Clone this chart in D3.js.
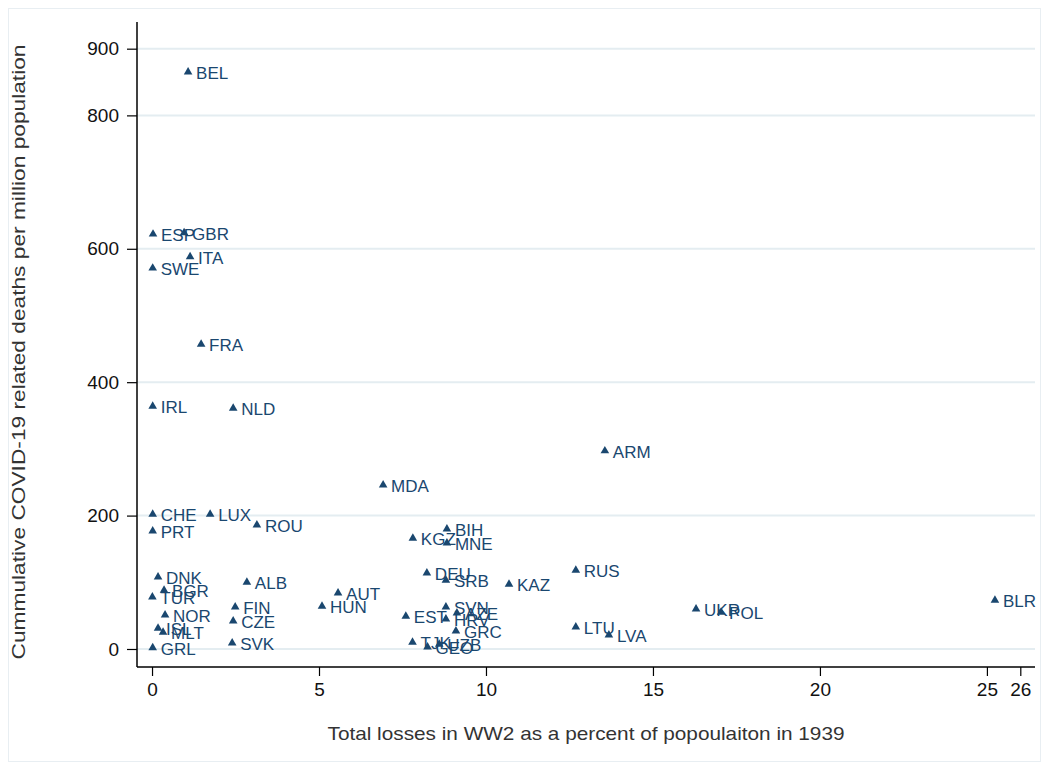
<!DOCTYPE html>
<html>
<head>
<meta charset="utf-8">
<script src="https://cdn.jsdelivr.net/npm/d3@7"></script>
<style>
  body { margin: 0; background: #fff; }
  text { font-family: Arial, "Liberation Sans", sans-serif; }
</style>
</head>
<body>
<div class="chart"></div>
<script>
// country codes, WW2 losses (% of 1939 pop.), covid deaths per million
const countries = ["BEL","ESP","GBR","ITA","SWE","FRA","IRL","NLD","ARM","MDA",
  "CHE","LUX","ROU","PRT","BIH","KGZ","MNE","DNK","BGR","TUR",
  "ALB","DEU","SRB","KAZ","RUS","AUT","HUN","FIN","NOR","CZE",
  "SVN","AZE","HRV","EST","UKR","POL","BLR","LTU","LVA","ISL",
  "MLT","GRL","SVK","GRC","TJK","GEO","UZB"];
const losses = [1.08,0.03,0.96,1.14,0.02,1.47,0.02,2.43,13.56,6.92,
  0.02,1.74,3.14,0.02,8.83,7.81,8.83,0.18,0.36,0.01,
  2.84,8.23,8.8,10.69,12.69,5.57,5.09,2.49,0.39,2.43,
  8.8,9.13,8.8,7.6,16.29,17.04,25.24,12.69,13.68,0.18,
  0.33,0.02,2.4,9.1,7.8,8.25,8.6];
const deaths = [865,622,624,588,571,457,364,361,297,246,
  202,202,186,177,180,166,159,108,88,78,
  100,114,103,97,118,84,64,63,51,42,
  63,54,45,49,60,55,73,33,21,31,
  25,2,9,27,10,3,7];

const xMajor = [0, 5, 10, 15, 20, 25, 26];
const xMinor = d3.range(0, 27, 1);
const yMajor = [0, 200, 400, 600, 800, 900];
const yMinor = [100, 300, 500, 700];

const dims = { width: 1049, height: 770 };
const navy = "#1a476f";

let svg = d3.select(".chart").append("svg")
  .attr("width", dims.width)
  .attr("height", dims.height);

// graph region outline
svg.append("rect")
  .attr("x", 8.5).attr("y", 8.5)
  .attr("width", 1032).attr("height", 753)
  .attr("fill", "#fff")
  .attr("stroke", "#e8eef2");

let x = d3.scaleLinear().domain([-0.45, 26.44]).range([137, 1035]);
let y = d3.scaleLinear().domain([-27, 940]).range([667, 22]);

// grid lines
svg.append("g").selectAll("line").data(yMajor).join("line")
  .attr("x1", x.range()[0]).attr("x2", x.range()[1])
  .attr("y1", d => y(d)).attr("y2", d => y(d))
  .attr("stroke", "#e4edf1").attr("stroke-width", 2);

// y axis
let yAxis = svg.append("g").attr("transform", `translate(${x.range()[0]},0)`);
yAxis.call(d3.axisLeft(y).tickValues(yMinor).tickSize(5).tickFormat(""));
yAxis.call(d3.axisLeft(y).tickValues(yMajor).tickSize(10).tickPadding(8).tickFormat(d3.format("d")));
yAxis.selectAll(".domain").remove();
yAxis.append("line")
  .attr("x1", 0).attr("x2", 0)
  .attr("y1", y.range()[1]).attr("y2", y.range()[0])
  .attr("stroke", "#000").attr("stroke-width", 1.5);
yAxis.selectAll(".tick line").attr("stroke", "#000").attr("stroke-width", 1.2);
yAxis.selectAll(".tick text").style("font-size", "19px").attr("fill", "#111");

// x axis
let xAxis = svg.append("g").attr("transform", `translate(0,${y.range()[0]})`);
xAxis.call(d3.axisBottom(x).tickValues(xMinor).tickSize(4).tickFormat(""));
xAxis.call(d3.axisBottom(x).tickValues(xMajor).tickSize(9).tickPadding(7).tickFormat(d3.format("d")));
xAxis.selectAll(".domain").remove();
xAxis.append("line")
  .attr("x1", x.range()[0]).attr("x2", x.range()[1])
  .attr("y1", 0).attr("y2", 0)
  .attr("stroke", "#000").attr("stroke-width", 1.5);
xAxis.selectAll(".tick line").attr("stroke", "#000").attr("stroke-width", 1.2);
xAxis.selectAll(".tick text").style("font-size", "19px").attr("fill", "#111");

// titles
svg.append("text")
  .attr("x", 586).attr("y", 740)
  .attr("text-anchor", "middle")
  .attr("textLength", 517)
  .attr("lengthAdjust", "spacingAndGlyphs")
  .style("font-size", "18.5px")
  .attr("fill", "#333")
  .text("Total losses in WW2 as a percent of popoulaiton in 1939");

svg.append("text")
  .attr("transform", "translate(25,352) rotate(-90)")
  .attr("text-anchor", "middle")
  .attr("textLength", 615)
  .attr("lengthAdjust", "spacingAndGlyphs")
  .style("font-size", "19px")
  .attr("fill", "#333")
  .text("Cummulative COVID-19 related deaths per million population");

// points
let pts = countries.map((c, i) => ({ code: c, lx: losses[i], dv: deaths[i] }));
let tri = d3.symbol().type(d3.symbolTriangle).size(32);

let marks = svg.append("g").selectAll("g").data(pts).join("g")
  .attr("transform", d => `translate(${x(d.lx)},${y(d.dv)})`);

marks.append("path")
  .attr("d", tri)
  .attr("fill", navy);

marks.append("text")
  .attr("x", 8)
  .attr("y", 7)
  .style("font-size", "17px")
  .attr("fill", navy)
  .text(d => d.code);
</script>
</body>
</html>
